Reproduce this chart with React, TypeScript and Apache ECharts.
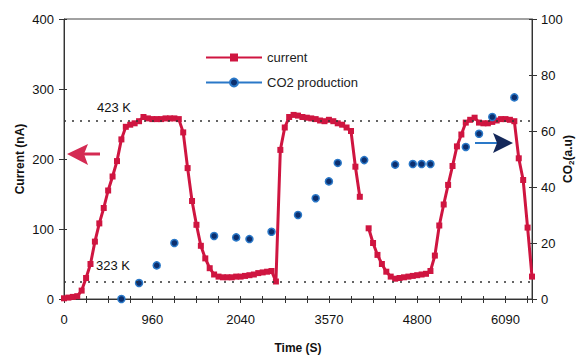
import React, { useEffect, useRef } from "react";
import * as echarts from "echarts";

// x categories: sample index; time labels every 20 samples
const SAMPLE_COUNT = 107;
const LABEL_STEP = 20;
const TICK_LABELS = ["0", "960", "2040", "3570", "4800", "6090"];

// Current (nA), one value per sample (null = gap)
const CURRENT: (number | null)[] = [
  1, 2, 3, 4, 12, 30, 50, 82, 108, 130,
  155, 175, 197, 228, 246, 249, 251, 254, 260, 258,
  257, 257, 257, 258, 258, 258, 257, 238, 187, 140,
  106, 76, 58, 44, 35, 32, 31, 31, 31, 32,
  32, 33, 34, 35, 37, 38, 39, 40, 25, 213,
  245, 260, 263, 262, 260, 259, 258, 257, 255, 254,
  256, 254, 251, 249, 245, 240, 189, 146, null, 101,
  80, 63, 50, 39, 32, 29, 30, 31, 32, 33,
  34, 35, 36, 40, 62, 105, 135, 163, 190, 218,
  235, 252, 256, 259, 252, 251, 251, 253, 255, 257,
  257, 256, 254, 201, 170, 102, 32,
];

// CO2 production (a.u.), measured at some samples only
const CO2_AT = [13, 17, 21, 25, 34, 39, 42, 47, 53, 57, 60, 62, 68, 75, 79, 81, 83, 91, 94, 97, 102];
const CO2_VALUES = [0, 5.7, 12, 20, 22.5, 22, 21.4, 24, 30, 36, 42, 48.6, 49.6, 48, 48.2, 48.2, 48.2, 54.3, 59, 65, 72];

// temperature reference levels (nA)
const LEVEL_HIGH = 254;
const LEVEL_LOW = 24;

const RED = "#cf1540";
const NAVY = "#0c2f6e";
const BLUE = "#2a78c8";
const FONT = "Liberation Sans";

export default function App() {
  const ref = useRef<HTMLDivElement>(null);
  useEffect(() => {
    if (!ref.current) return;
    const chart = echarts.init(ref.current, null, { renderer: "svg" });
    const categories = Array.from({ length: SAMPLE_COUNT }, (_, i) => String(i));
    const co2: (number | null)[] = categories.map(() => null);
    CO2_AT.forEach((idx, k) => {
      co2[idx] = CO2_VALUES[k];
    });
    const xLabel = (_v: string, i: number) =>
      i % LABEL_STEP === 0 ? TICK_LABELS[i / LABEL_STEP] ?? "" : "";
    const tickColor = "#333";
    chart.setOption({
      animation: false,
      textStyle: { fontFamily: FONT },
      grid: {
        left: 64,
        right: 44,
        top: 19,
        bottom: 57,
        containLabel: false,
        outerBoundsMode: "none",
        show: true,
        borderColor: "#444",
        borderWidth: 1,
        backgroundColor: "transparent",
      },
      legend: {
        left: 200,
        top: 46,
        orient: "vertical",
        itemWidth: 56,
        itemHeight: 10,
        itemGap: 12,
        textStyle: { fontFamily: FONT, fontSize: 13, color: "#222" },
        data: ["current", "CO2 production"],
      },
      xAxis: [
        {
          type: "category",
          data: categories,
          boundaryGap: false,
          name: "Time (S)",
          nameLocation: "middle",
          nameGap: 43,
          nameMoveOverlap: false,
          nameTextStyle: { fontFamily: FONT, fontSize: 12, fontWeight: "bold", color: "#111" },
          axisLine: { lineStyle: { color: tickColor, width: 1 } },
          axisTick: { interval: 4, length: 4, lineStyle: { color: tickColor } },
          axisLabel: {
            interval: 0,
            formatter: xLabel,
            fontSize: 13,
            color: "#111",
            margin: 14,
            fontFamily: FONT,
          },
          splitLine: { show: false },
        },
        {
          type: "category",
          data: categories,
          boundaryGap: false,
          position: "bottom",
          axisLine: { show: false },
          axisTick: { interval: 4, length: 3, inside: true, lineStyle: { color: tickColor } },
          axisLabel: { show: false },
          splitLine: { show: false },
        },
      ],
      yAxis: [
        {
          type: "value",
          min: 0,
          max: 400,
          interval: 100,
          position: "left",
          name: "Current (nA)",
          nameLocation: "middle",
          nameGap: 38,
          nameMoveOverlap: false,
          nameRotate: 90,
          nameTextStyle: { fontFamily: FONT, fontSize: 12, fontWeight: "bold", color: "#111" },
          axisLine: { show: true, lineStyle: { color: tickColor } },
          axisTick: { show: true, length: 5, lineStyle: { color: tickColor } },
          axisLabel: { fontSize: 13, color: "#111", margin: 10, fontFamily: FONT },
          splitLine: { show: false },
        },
        {
          type: "value",
          min: 0,
          max: 100,
          interval: 20,
          position: "right",
          name: "{a|CO}{b|2}{a|(a.u)}",
          nameLocation: "middle",
          nameGap: 29,
          nameMoveOverlap: false,
          nameRotate: 90,
          nameTextStyle: {
            rich: {
              a: { fontFamily: FONT, fontSize: 12, fontWeight: "bold", color: "#111" },
              b: { fontFamily: FONT, fontSize: 8, fontWeight: "bold", color: "#111", verticalAlign: "bottom", padding: [6, 0, 0, 0] },
            },
          },
          axisLine: { show: true, lineStyle: { color: tickColor } },
          axisTick: { show: true, length: 5, lineStyle: { color: tickColor } },
          axisLabel: { fontSize: 13, color: "#111", margin: 9, fontFamily: FONT },
          splitLine: { show: false },
        },
        {
          type: "value",
          min: 0,
          max: 400,
          interval: 100,
          position: "left",
          axisLine: { show: false },
          axisTick: { show: true, inside: true, length: 3, lineStyle: { color: tickColor } },
          axisLabel: { show: false },
          splitLine: { show: false },
        },
        {
          type: "value",
          min: 0,
          max: 100,
          interval: 20,
          position: "right",
          axisLine: { show: false },
          axisTick: { show: true, inside: true, length: 3, lineStyle: { color: tickColor } },
          axisLabel: { show: false },
          splitLine: { show: false },
        },
      ],
      series: [
        {
          name: "current",
          type: "line",
          yAxisIndex: 0,
          data: CURRENT,
          connectNulls: false,
          symbol: "rect",
          symbolSize: 6,
          showAllSymbol: true,
          lineStyle: { color: RED, width: 3 },
          itemStyle: { color: RED },
          markLine: {
            silent: true,
            symbol: ["none", "none"],
            label: { show: false },
            lineStyle: { color: "#333", type: [2, 6], width: 1.6 },
            data: [{ yAxis: LEVEL_HIGH }, { yAxis: LEVEL_LOW }],
          },
        },
        {
          name: "CO2 production",
          type: "line",
          yAxisIndex: 1,
          data: co2,
          connectNulls: false,
          symbol: "circle",
          symbolSize: 7,
          showAllSymbol: true,
          lineStyle: { color: BLUE, width: 3 },
          itemStyle: { color: NAVY, borderColor: BLUE, borderWidth: 1.5 },
        },
      ],
      graphic: [
        { type: "text", left: 97, top: 101, style: { text: "423 K", fontFamily: FONT, fontSize: 13, fill: "#111" } },
        { type: "text", left: 96, top: 259, style: { text: "323 K", fontFamily: FONT, fontSize: 13, fill: "#111" } },
        {
          type: "polygon",
          shape: { points: [[67, 154], [88, 144], [84, 154], [88, 165]] },
          style: { fill: "#d42a52" },
        },
        { type: "line", shape: { x1: 84, y1: 154, x2: 100, y2: 154 }, style: { stroke: "#d42a52", lineWidth: 3 } },
        { type: "line", shape: { x1: 475, y1: 143, x2: 497, y2: 143 }, style: { stroke: BLUE, lineWidth: 2 } },
        {
          type: "polygon",
          shape: { points: [[493, 133], [513, 143], [493, 153], [497, 143]] },
          style: { fill: "#14285a" },
        },
      ],
    });
    return () => chart.dispose();
  }, []);
  return (
    <div
      ref={ref}
      style={{ position: "fixed", left: 0, top: 0, width: 576, height: 356, background: "#fff" }}
    />
  );
}
